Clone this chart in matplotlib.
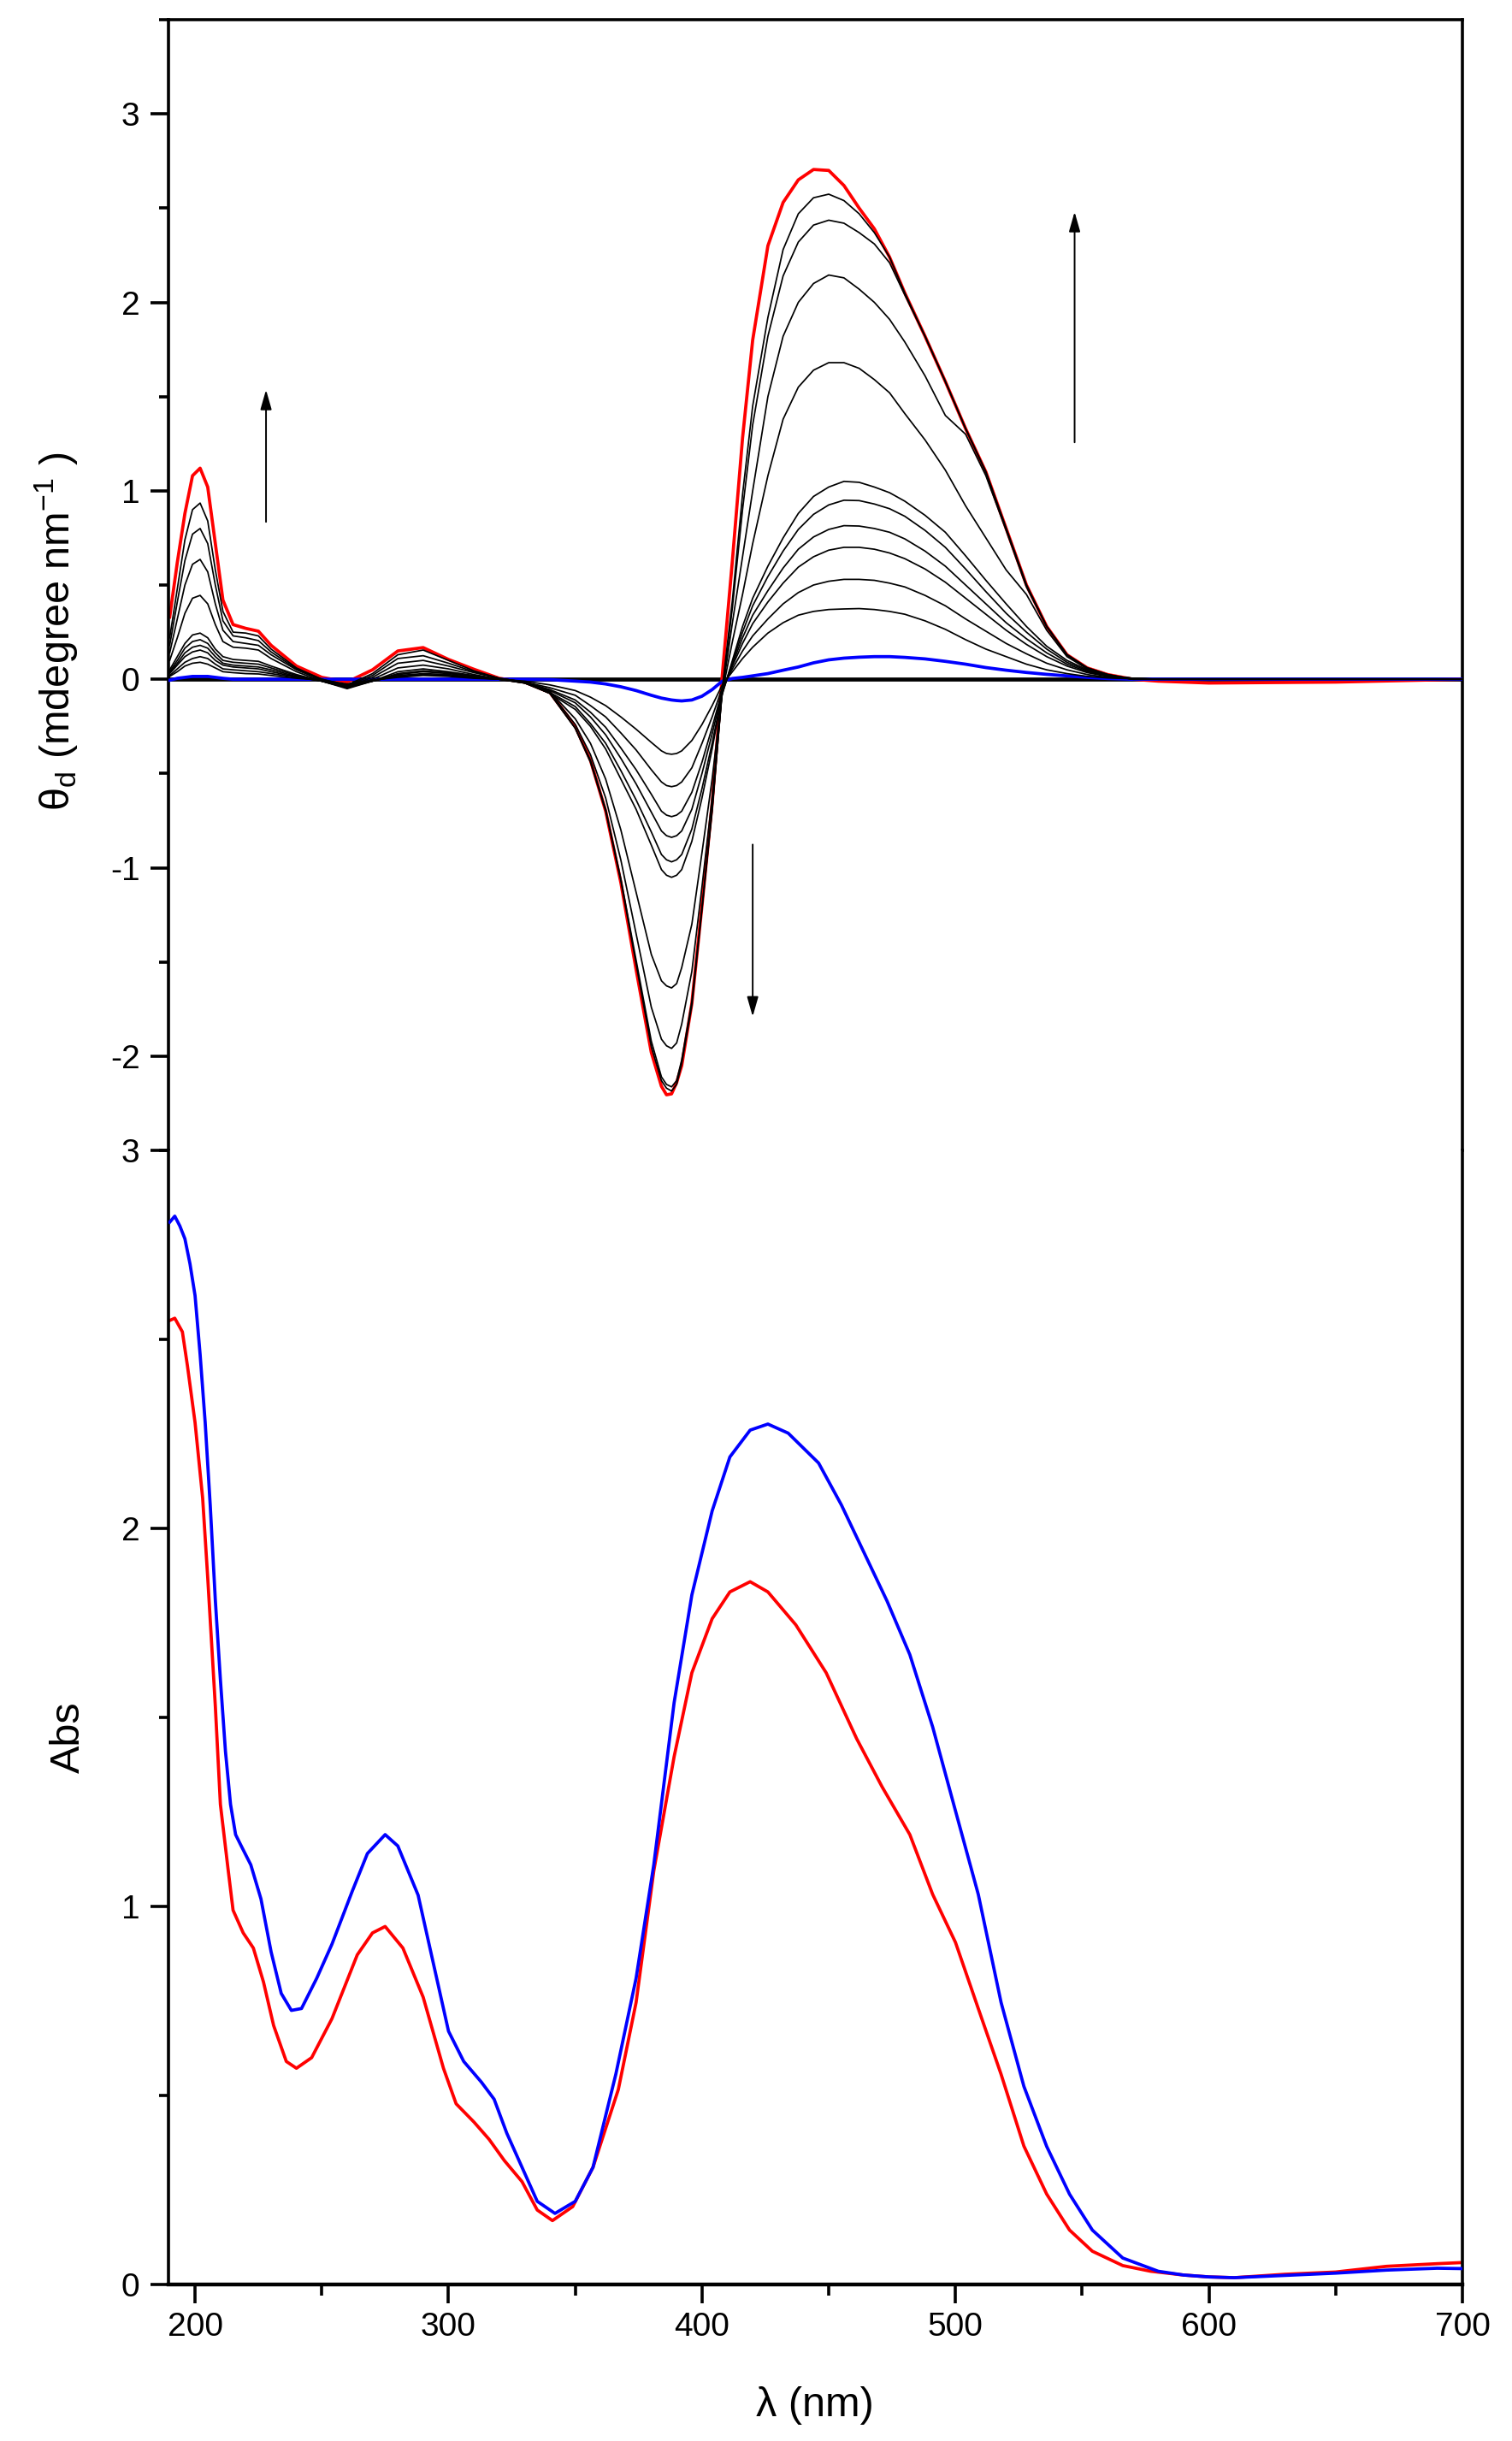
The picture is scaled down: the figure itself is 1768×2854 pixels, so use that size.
import matplotlib
matplotlib.use("Agg")
import matplotlib.pyplot as plt
from matplotlib.ticker import MultipleLocator
import numpy as np

plt.rcParams["font.family"] = ["Liberation Sans", "DejaVu Sans"]
plt.rcParams["mathtext.fontset"] = "custom"
plt.rcParams["mathtext.rm"] = "Liberation Sans"
plt.rcParams["mathtext.it"] = "Liberation Sans:italic"
plt.rcParams["axes.unicode_minus"] = False

# ---- CD spectra (theta_d, mdegree/nm) ----
cd_wl = [190, 193, 196, 199, 202, 205, 208, 211, 215, 220,
         225, 230, 240, 250, 260, 270, 280, 290, 300, 310,
         320, 330, 340, 350, 356, 362, 368, 374, 380, 384,
         386, 388, 390, 392, 396, 400, 404, 408, 412, 416,
         420, 426, 432, 438, 444, 450, 456, 462, 468, 474,
         480, 488, 496, 504, 512, 520, 528, 536, 544, 552,
         560, 570, 580, 600, 650, 700]

cd_red = [0.33, 0.62, 0.88, 1.08, 1.12, 1.02, 0.72, 0.42, 0.29, 0.27,
          0.255, 0.18, 0.07, 0.01, -0.015, 0.05, 0.15, 0.168, 0.105, 0.053,
          0.005, -0.015, -0.07, -0.25, -0.43, -0.70, -1.08, -1.54, -1.98, -2.16,
          -2.205, -2.20, -2.14, -2.05, -1.72, -1.20, -0.66, 0.02, 0.63, 1.28,
          1.80, 2.30, 2.53, 2.65, 2.705, 2.70, 2.62, 2.50, 2.39, 2.24,
          2.05, 1.82, 1.58, 1.33, 1.10, 0.80, 0.50, 0.28, 0.13, 0.06,
          0.025, 0.0, -0.01, -0.02, -0.015, 0.0]

cd_blue = [-0.005, 0.005, 0.01, 0.015, 0.015, 0.015, 0.01, 0.005, 0.0, 0.0,
           0.0, 0.0, 0.0, 0.0, 0.0, 0.0, 0.0, 0.0, 0.0, 0.0,
           0.0, 0.0, -0.002, -0.01, -0.015, -0.025, -0.04, -0.06, -0.085, -0.10,
           -0.105, -0.11, -0.113, -0.115, -0.11, -0.09, -0.055, -0.01, 0.004, 0.01,
           0.018, 0.03, 0.048, 0.065, 0.087, 0.103, 0.112, 0.117, 0.12, 0.12,
           0.116, 0.108, 0.095, 0.08, 0.062, 0.048, 0.036, 0.026, 0.018, 0.01,
           0.004, 0.0, 0.0, 0.0, 0.0, 0.0]

# intermediate titration steps (black), largest to smallest
cd_black = [
    [0.22, 0.48, 0.74, 0.90, 0.935, 0.84, 0.58, 0.36, 0.25, 0.245,
     0.23, 0.16, 0.06, 0.0, -0.03, 0.03, 0.13, 0.155, 0.10, 0.045,
     0.005, -0.015, -0.075, -0.26, -0.44, -0.70, -1.07, -1.51, -1.95, -2.13,
     -2.17, -2.185, -2.15, -2.04, -1.73, -1.22, -0.70, -0.05, 0.42, 0.98,
     1.45, 1.92, 2.28, 2.47, 2.555, 2.574, 2.54, 2.47, 2.37, 2.24,
     2.05, 1.82, 1.58, 1.33, 1.10, 0.80, 0.50, 0.28, 0.13, 0.06,
     0.025, 0.0, 0.0, 0.0, 0.0, 0.0],
    [0.18, 0.41, 0.63, 0.77, 0.80, 0.72, 0.50, 0.31, 0.23, 0.22,
     0.205, 0.145, 0.055, 0.0, -0.035, 0.02, 0.11, 0.125, 0.085, 0.04,
     0.005, -0.015, -0.075, -0.26, -0.43, -0.69, -1.06, -1.49, -1.92, -2.11,
     -2.15, -2.163, -2.13, -2.02, -1.71, -1.21, -0.69, -0.06, 0.38, 0.90,
     1.35, 1.82, 2.14, 2.32, 2.41, 2.436, 2.42, 2.37, 2.31, 2.21,
     2.04, 1.82, 1.58, 1.33, 1.10, 0.80, 0.50, 0.28, 0.13, 0.06,
     0.025, 0.0, 0.0, 0.0, 0.0, 0.0],
    [0.14, 0.32, 0.50, 0.61, 0.636, 0.57, 0.40, 0.26, 0.20, 0.19,
     0.18, 0.13, 0.05, -0.005, -0.04, 0.01, 0.085, 0.10, 0.07, 0.035,
     0.005, -0.015, -0.07, -0.24, -0.40, -0.63, -0.96, -1.35, -1.74, -1.91,
     -1.945, -1.959, -1.93, -1.83, -1.55, -1.10, -0.63, -0.07, 0.30, 0.65,
     1.00, 1.50, 1.82, 2.00, 2.10, 2.145, 2.13, 2.07, 2.00, 1.91,
     1.79, 1.61, 1.40, 1.30, 1.08, 0.79, 0.49, 0.28, 0.13, 0.06,
     0.025, 0.0, 0.0, 0.0, 0.0, 0.0],
    [0.10, 0.22, 0.35, 0.43, 0.445, 0.40, 0.29, 0.20, 0.17, 0.165,
     0.155, 0.11, 0.04, -0.01, -0.045, 0.0, 0.06, 0.075, 0.055, 0.025,
     0.0, -0.015, -0.065, -0.21, -0.34, -0.53, -0.80, -1.13, -1.46, -1.60,
     -1.627, -1.638, -1.615, -1.53, -1.30, -0.92, -0.53, -0.07, 0.20, 0.45,
     0.72, 1.08, 1.38, 1.55, 1.64, 1.68, 1.68, 1.65, 1.59, 1.52,
     1.41, 1.27, 1.11, 0.92, 0.75, 0.58, 0.45, 0.26, 0.12, 0.055,
     0.02, 0.0, 0.0, 0.0, 0.0, 0.0],
    [0.05, 0.12, 0.19, 0.235, 0.245, 0.22, 0.16, 0.12, 0.105, 0.10,
     0.095, 0.07, 0.025, -0.01, -0.05, -0.01, 0.04, 0.055, 0.04, 0.02,
     0.0, -0.02, -0.075, -0.16, -0.25, -0.37, -0.53, -0.69, -0.88, -1.01,
     -1.04, -1.051, -1.04, -1.01, -0.86, -0.63, -0.37, -0.08, 0.10, 0.28,
     0.43, 0.60, 0.75, 0.88, 0.97, 1.02, 1.05, 1.045, 1.02, 0.99,
     0.945, 0.87, 0.78, 0.655, 0.525, 0.40, 0.28, 0.175, 0.10, 0.05,
     0.02, 0.005, 0.0, 0.0, 0.0, 0.0],
    [0.04, 0.10, 0.165, 0.20, 0.21, 0.19, 0.14, 0.10, 0.09, 0.085,
     0.08, 0.06, 0.02, -0.01, -0.045, -0.01, 0.03, 0.045, 0.035, 0.015,
     0.0, -0.02, -0.07, -0.145, -0.235, -0.34, -0.485, -0.64, -0.81, -0.93,
     -0.958, -0.969, -0.958, -0.93, -0.795, -0.58, -0.34, -0.075, 0.09, 0.25,
     0.39, 0.545, 0.68, 0.795, 0.875, 0.925, 0.95, 0.948, 0.93, 0.905,
     0.865, 0.79, 0.70, 0.585, 0.465, 0.35, 0.25, 0.16, 0.09, 0.045,
     0.02, 0.005, 0.0, 0.0, 0.0, 0.0],
    [0.035, 0.085, 0.14, 0.17, 0.18, 0.165, 0.12, 0.085, 0.075, 0.07,
     0.065, 0.05, 0.015, -0.01, -0.04, -0.01, 0.025, 0.04, 0.03, 0.015,
     0.0, -0.02, -0.06, -0.125, -0.20, -0.295, -0.42, -0.555, -0.705, -0.805,
     -0.83, -0.839, -0.83, -0.805, -0.69, -0.50, -0.29, -0.065, 0.08, 0.22,
     0.34, 0.47, 0.59, 0.69, 0.755, 0.795, 0.815, 0.813, 0.80, 0.78,
     0.745, 0.68, 0.60, 0.50, 0.40, 0.30, 0.215, 0.14, 0.08, 0.04,
     0.017, 0.005, 0.0, 0.0, 0.0, 0.0],
    [0.03, 0.075, 0.12, 0.145, 0.155, 0.14, 0.10, 0.075, 0.065, 0.06,
     0.055, 0.04, 0.012, -0.01, -0.035, -0.01, 0.02, 0.03, 0.025, 0.01,
     0.0, -0.015, -0.055, -0.11, -0.175, -0.255, -0.365, -0.48, -0.61, -0.70,
     -0.721, -0.729, -0.721, -0.70, -0.60, -0.44, -0.255, -0.06, 0.07, 0.19,
     0.295, 0.41, 0.51, 0.595, 0.65, 0.685, 0.70, 0.70, 0.69, 0.67,
     0.64, 0.585, 0.515, 0.43, 0.345, 0.26, 0.185, 0.12, 0.07, 0.035,
     0.015, 0.004, 0.0, 0.0, 0.0, 0.0],
    [0.02, 0.055, 0.09, 0.11, 0.12, 0.11, 0.08, 0.055, 0.05, 0.045,
     0.04, 0.03, 0.01, -0.008, -0.03, -0.008, 0.015, 0.025, 0.02, 0.008,
     0.0, -0.015, -0.045, -0.085, -0.14, -0.20, -0.285, -0.375, -0.48, -0.545,
     -0.564, -0.570, -0.564, -0.545, -0.47, -0.34, -0.20, -0.045, 0.055, 0.15,
     0.23, 0.32, 0.40, 0.46, 0.50, 0.52, 0.53, 0.53, 0.525, 0.51,
     0.49, 0.445, 0.39, 0.32, 0.255, 0.19, 0.135, 0.085, 0.05, 0.025,
     0.01, 0.003, 0.0, 0.0, 0.0, 0.0],
    [0.015, 0.04, 0.07, 0.085, 0.09, 0.08, 0.06, 0.04, 0.035, 0.03,
     0.028, 0.02, 0.005, -0.005, -0.025, -0.005, 0.01, 0.02, 0.015, 0.005,
     0.0, -0.01, -0.03, -0.06, -0.095, -0.14, -0.20, -0.265, -0.335, -0.38,
     -0.394, -0.398, -0.394, -0.38, -0.325, -0.24, -0.14, -0.03, 0.04, 0.11,
     0.17, 0.245, 0.30, 0.34, 0.36, 0.37, 0.373, 0.375, 0.37, 0.36,
     0.345, 0.31, 0.265, 0.21, 0.16, 0.12, 0.08, 0.05, 0.03, 0.015,
     0.007, 0.002, 0.0, 0.0, 0.0, 0.0],
]

# ---- UV-vis absorbance ----
abs_blue_wl = [190, 192, 194, 196, 198, 200, 202, 204, 206, 208,
               210, 212, 214, 216, 218, 222, 226, 230, 234, 238,
               242, 248, 254, 262, 268, 275, 280, 288, 294, 300,
               306, 313, 318, 323, 329, 335, 342, 350, 357, 366,
               374, 381, 389, 396, 404, 411, 419, 426, 434, 446,
               455, 464, 473, 482, 491, 500, 509, 518, 527, 536,
               545, 554, 566, 580, 590, 600, 610, 630, 650, 670,
               690, 700]
abs_blue = [2.81, 2.826, 2.80, 2.766, 2.70, 2.616, 2.46, 2.28, 2.06, 1.81,
            1.60, 1.41, 1.27, 1.19, 1.163, 1.11, 1.02, 0.88, 0.77, 0.725,
            0.73, 0.81, 0.90, 1.04, 1.14, 1.19, 1.16, 1.03, 0.85, 0.67,
            0.59, 0.535, 0.49, 0.40, 0.31, 0.22, 0.188, 0.22, 0.31, 0.556,
            0.81, 1.111, 1.539, 1.824, 2.046, 2.189, 2.26, 2.276, 2.252, 2.173,
            2.062, 1.935, 1.808, 1.666, 1.475, 1.253, 1.032, 0.746, 0.524, 0.365,
            0.239, 0.144, 0.07, 0.035, 0.025, 0.02, 0.018, 0.024, 0.03, 0.038,
            0.043, 0.042]

abs_red_wl = [190, 192, 195, 197, 200, 203, 205, 208, 210, 213,
              215, 219, 223, 227, 231, 236, 240, 246, 254, 264,
              270, 275, 282, 290, 298, 303, 310, 316, 322, 329,
              335, 341, 349, 357, 367, 374, 381, 389, 396, 404,
              411, 419, 426, 437, 449, 461, 471, 482, 491, 500,
              509, 518, 527, 536, 545, 554, 566, 577, 590, 600,
              610, 630, 650, 670, 690, 700]
abs_red = [2.55, 2.556, 2.52, 2.43, 2.28, 2.08, 1.87, 1.53, 1.27, 1.10,
           0.99, 0.93, 0.89, 0.80, 0.685, 0.59, 0.572, 0.60, 0.703, 0.872,
           0.93, 0.947, 0.89, 0.76, 0.572, 0.478, 0.43, 0.384, 0.328, 0.272,
           0.197, 0.169, 0.206, 0.31, 0.516, 0.746, 1.095, 1.396, 1.618, 1.761,
           1.832, 1.859, 1.832, 1.745, 1.618, 1.444, 1.317, 1.19, 1.032, 0.905,
           0.73, 0.556, 0.366, 0.239, 0.144, 0.088, 0.05, 0.035, 0.025, 0.02,
           0.018, 0.027, 0.033, 0.048, 0.055, 0.058]

# arrows showing the titration direction: (x_tail, y_tail, x_tip, y_tip)
arrows = [(228, 0.835, 228, 1.536),
          (547, 1.257, 547, 2.48),
          (420, -0.877, 420, -1.79)]

RED = "#ff0000"
BLUE = "#0000ff"
SPINE_W = 2.6
TICK_FS = 28
LABEL_FS = 35

fig = plt.figure(figsize=(17.68, 28.54), dpi=100)
ax_cd = fig.add_axes([0.1114, 0.52873, 0.8558, 0.46321])
ax_abs = fig.add_axes([0.1114, 0.06412, 0.8558, 0.46461])


def style_axis(ax):
    for side in ("left", "right", "top", "bottom"):
        ax.spines[side].set_linewidth(SPINE_W)
    ax.tick_params(which="major", direction="out", length=15, width=SPINE_W,
                   labelsize=TICK_FS, pad=9)
    ax.tick_params(which="minor", direction="out", length=8, width=SPINE_W)
    ax.tick_params(right=False, top=False, which="both")


# CD panel
ax_cd.axhline(0, color="black", lw=3.4, zorder=1)
ax_cd.plot(cd_wl, cd_red, color=RED, lw=2.7, zorder=2)
ax_cd.plot(cd_wl, cd_blue, color=BLUE, lw=2.7, zorder=3)
for curve in cd_black:
    ax_cd.plot(cd_wl, curve, color="black", lw=1.25, zorder=4)
for x0, y0, x1, y1 in arrows:
    ax_cd.annotate("", xy=(x1, y1), xytext=(x0, y0),
                   arrowprops=dict(arrowstyle="-|>,head_length=0.7,head_width=0.2",
                                   color="black", lw=1.4, mutation_scale=20,
                                   shrinkA=0, shrinkB=0))
ax_cd.set_xlim(189.5, 700)
ax_cd.set_ylim(-2.5, 3.5)
ax_cd.yaxis.set_major_locator(MultipleLocator(1))
ax_cd.yaxis.set_minor_locator(MultipleLocator(0.5))
style_axis(ax_cd)
ax_cd.spines["bottom"].set_visible(False)
ax_cd.tick_params(axis="x", which="both", bottom=False, labelbottom=False)

# absorbance panel
ax_abs.plot(abs_red_wl, abs_red, color=RED, lw=2.7, zorder=2)
ax_abs.plot(abs_blue_wl, abs_blue, color=BLUE, lw=2.7, zorder=3)
ax_abs.set_xlim(189.5, 700)
ax_abs.set_ylim(0, 3)
ax_abs.yaxis.set_major_locator(MultipleLocator(1))
ax_abs.yaxis.set_minor_locator(MultipleLocator(0.5))
ax_abs.xaxis.set_major_locator(MultipleLocator(100))
ax_abs.xaxis.set_minor_locator(MultipleLocator(50))
style_axis(ax_abs)
ax_abs.spines["top"].set_visible(False)
ax_abs.spines["bottom"].set_linewidth(3.2)
ax_abs.tick_params(axis="x", which="major", length=16, pad=7)
ax_abs.tick_params(axis="x", which="minor", length=9)

# axis labels
fig.text(0.0462, 0.7414, r"θ$_{\rm d}$ (mdegree nm$^{-1}$ )", rotation=90,
         rotation_mode="anchor", ha="center", va="baseline", fontsize=LABEL_FS)
fig.text(0.0525, 0.2884, "Abs", rotation=90, rotation_mode="anchor",
         ha="center", va="baseline", fontsize=LABEL_FS)
fig.text(0.539, 0.0102, "λ (nm)", ha="center", va="baseline", fontsize=LABEL_FS)

fig.savefig("out.png", dpi=100)
